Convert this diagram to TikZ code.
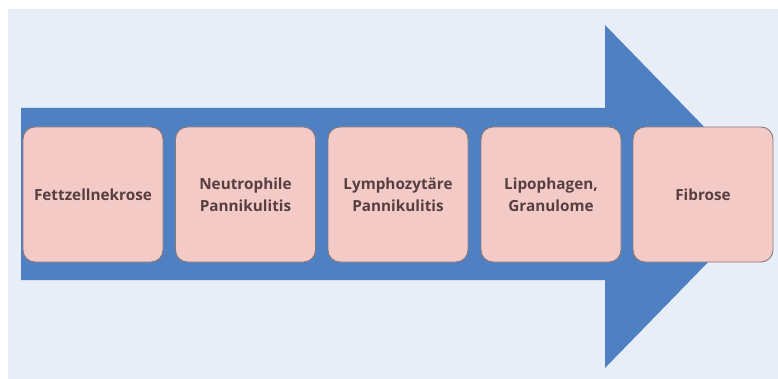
\documentclass[tikz,border=0pt]{standalone}
\usepackage{fontspec}
\setmainfont{Open Sans}
\definecolor{bgc}{HTML}{E8EEF8}
\definecolor{arrowc}{HTML}{4F81C2}
\definecolor{boxfill}{HTML}{F4CAC7}
\definecolor{boxline}{HTML}{8A7878}
\definecolor{txtc}{HTML}{553F40}
\begin{document}
\begin{tikzpicture}[x=1pt,y=-1pt,
  stage/.style={draw=boxline, line width=0.9pt, fill=boxfill, rounded corners=12pt,
    minimum width=140pt, minimum height=135pt, inner sep=0pt,
    align=center, text=txtc, font=\fontsize{15.3}{22}\selectfont\bfseries}]
\useasboundingbox (0,0) rectangle (778,379);
\fill[white] (0,0) rectangle (778,379);
\fill[bgc] (8,9) rectangle (778,379);
\fill[arrowc] (21,108) -- (605,108) -- (605,25) -- (772,196.5) -- (605,368) -- (605,280) -- (21,280) -- cycle;
\node[stage] (s1) at (93,194.5) {Fettzellnekrose};
\node[stage] (s2) at (245.5,194.5) {Neutrophile\\Pannikulitis};
\node[stage] (s3) at (398,194.5) {Lymphozytäre\\Pannikulitis};
\node[stage] (s4) at (551,194.5) {Lipophagen,\\Granulome};
\node[stage] (s5) at (703,194.5) {Fibrose};
\end{tikzpicture}
\end{document}
